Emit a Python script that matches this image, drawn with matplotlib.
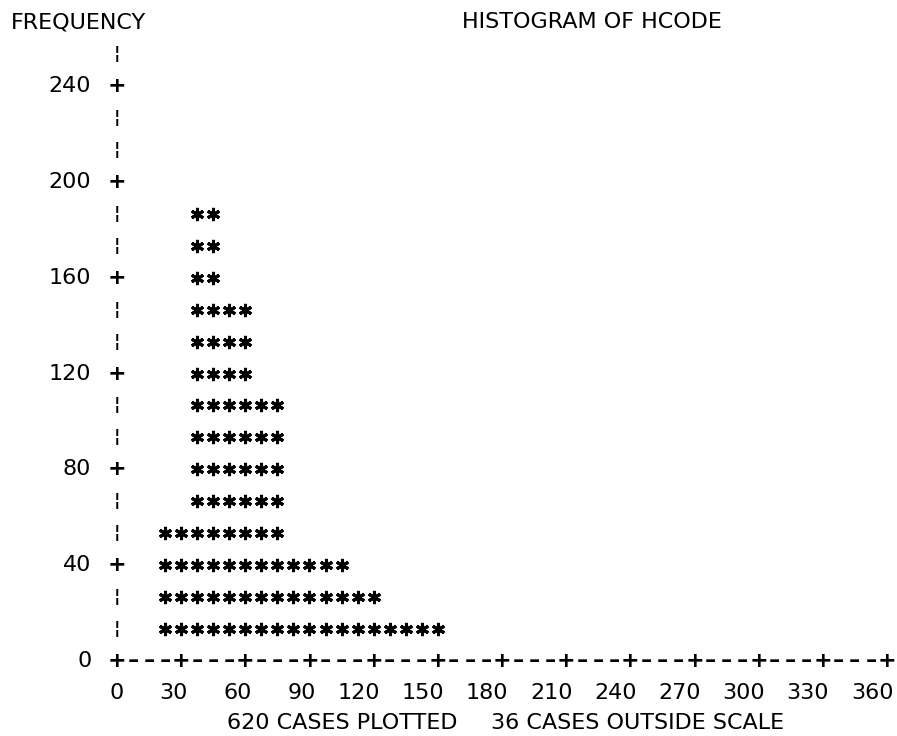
import numpy as np
import matplotlib.pyplot as plt

# histogram of HCODE, printer style: one star per 40/3 cases, two columns per bin
bin_left = [22.5, 37.5, 52.5, 67.5, 82.5, 97.5, 112.5, 127.5, 142.5]
freq = [52, 186, 146, 106, 38, 36, 30, 14, 12]
y_ticks = [0, 40, 80, 120, 160, 200, 240]
x_ticks = [0, 30, 60, 90, 120, 150, 180, 210, 240, 270, 300, 330, 360]
n_plotted = 620
n_outside = 36

col = 7.5          # x units per character column
row = 40 / 3.0     # cases per printed line
fs = 16
font = 'DejaVu Sans'

fig = plt.figure(figsize=(8.97, 7.36), dpi=100)
ax = fig.add_axes([0, 0, 1, 1])
ax.set_xlim(-54.7, 364.7)
ax.set_ylim(-31.3, 275.9)
ax.axis('off')

# stars
sx, sy = [], []
for lo, f in zip(bin_left, freq):
    nrow = int(round(f / row))
    for r in range(1, nrow + 1):
        for c in (lo, lo + col):
            sx.append(c)
            sy.append(r * row)
ax.plot(sx, sy, ls='none', marker=(6, 2, 0), ms=9.5, mew=2.2, color='black')

# vertical axis: '+' at labelled lines, broken bar elsewhere
for k in range(0, 20):
    y = k * row
    if k % 3 == 0:
        ax.text(0, y, '+', ha='center', va='center', fontsize=fs, family=font,
                fontweight='bold')
    else:
        ax.text(0, y, '\u00a6', ha='center', va='center', fontsize=fs - 3, family=font,
                fontweight='bold')
for t in y_ticks:
    ax.text(-12, t, str(t), ha='right', va='center', fontsize=fs, family=font)

# horizontal axis
for k in range(1, 49):
    x = k * col
    if k % 4 == 0:
        ax.text(x, 0, '+', ha='center', va='center', fontsize=fs, family=font,
                fontweight='bold')
    else:
        ax.text(x, 0, '\u2013', ha='center', va='center', fontsize=fs, family=font,
                fontweight='bold')
for t in x_ticks:
    ax.text(t + 3.0, -row, str(t), ha='right', va='center', fontsize=fs, family=font)

ax.text(-18.2, 20 * row, 'FREQUENCY', ha='center', va='center', fontsize=fs, family=font)
ax.text(222, 20 * row, 'HISTOGRAM OF HCODE', ha='center', va='center',
        fontsize=fs, family=font)
ax.text(159, -1.94 * row, f'{n_plotted} CASES PLOTTED', ha='right', va='center',
        fontsize=fs, family=font)
ax.text(175, -1.94 * row, f'{n_outside} CASES OUTSIDE SCALE', ha='left',
        va='center', fontsize=fs, family=font)

fig.savefig('out.png', dpi=100)
